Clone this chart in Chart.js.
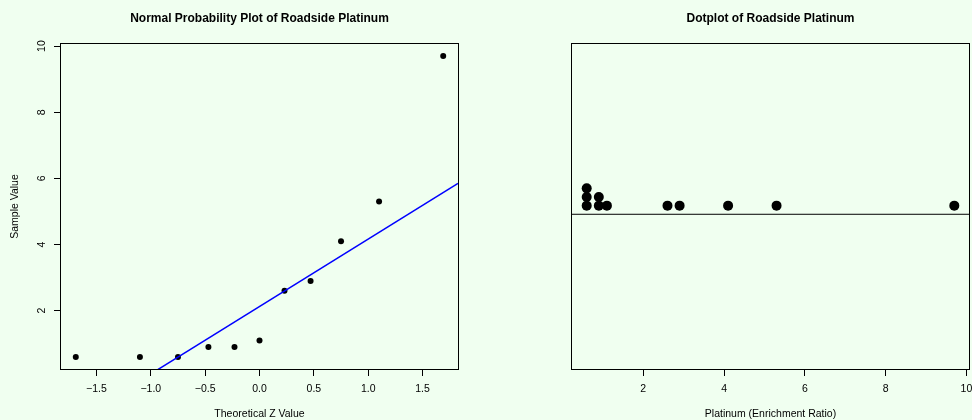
<!DOCTYPE html>
<html>
<head>
<meta charset="utf-8">
<script src="https://cdn.jsdelivr.net/npm/chart.js@4.4.1/dist/chart.umd.min.js"></script>
<style>
  html, body { margin: 0; padding: 0; background: #f0fff0; }
  #wrap { position: relative; width: 972px; height: 420px; overflow: hidden; }
  #qq { position: absolute; left: 0; top: 0; }
  #dot { position: absolute; left: 486px; top: 0; }
</style>
</head>
<body>
<div id="wrap">
  <canvas id="qq" width="486" height="420"></canvas>
  <canvas id="dot" width="500" height="420"></canvas>
</div>
<script>
// sorted roadside platinum readings (enrichment ratio)
const platinum = [0.6, 0.6, 0.6, 0.9, 0.9, 1.1, 2.6, 2.9, 4.1, 5.3, 9.7];
// theoretical z values for the 11 readings
const zScores = [-1.69, -1.10, -0.75, -0.47, -0.23, 0.0, 0.23, 0.47, 0.75, 1.10, 1.69];
// reference line (through the quartiles)
const qqIntercept = 2.125;
const qqSlope = 2.039;

const zTicks = [-1.5, -1.0, -0.5, 0.0, 0.5, 1.0, 1.5];
const sampleTicks = [2, 4, 6, 8, 10];
const platinumTicks = [2, 4, 6, 8, 10];

const zRange = [-1.826, 1.826];
const sampleRange = [0.236, 10.064];
const platinumRange = [0.236, 10.064];

Chart.defaults.font.family = '"Liberation Sans", Arial, Helvetica, sans-serif';
Chart.defaults.color = '#000';

// black frame round the plot region, like R's box()
const boxPlugin = {
  id: 'box',
  afterDatasetsDraw(chart) {
    const { ctx, chartArea: a } = chart;
    ctx.save();
    ctx.strokeStyle = '#000';
    ctx.lineWidth = 1;
    ctx.strokeRect(a.left - 0.5, a.top - 0.5, a.right - a.left + 1, a.bottom - a.top + 1);
    ctx.restore();
  }
};

const tickGrid = { drawOnChartArea: false, drawTicks: true, tickLength: 7, color: '#000' };
const axisFont = { size: 10.5 };
const titleOpts = (text) => ({
  display: true,
  text,
  fullSize: false,
  font: { size: 12, weight: 'bold' },
  padding: { top: 11.1, bottom: 18.5 },
  color: '#000'
});

// Normal probability plot
const qqPoints = platinum.map((v, i) => ({ x: zScores[i], y: v }));
const qqLine = zRange.map(z => ({ x: z, y: qqIntercept + qqSlope * z }));

new Chart(document.getElementById('qq'), {
  type: 'scatter',
  data: {
    datasets: [
      {
        data: qqLine,
        showLine: true,
        borderColor: '#0000ff',
        borderWidth: 1.5,
        pointRadius: 0,
      },
      {
        data: qqPoints,
        backgroundColor: '#000',
        pointRadius: 3,
        pointBorderWidth: 0,
      },
    ],
  },
  options: {
    responsive: false,
    animation: false,
    layout: { padding: { left: 0, right: 28, top: 0, bottom: 0 } },
    scales: {
      x: {
        type: 'linear',
        min: zRange[0],
        max: zRange[1],
        afterBuildTicks: s => { s.ticks = zTicks.map(v => ({ value: v })); },
        afterFit: s => { s.height = 51; },
        grid: tickGrid,
        border: { display: false },
        ticks: {
          padding: 7,
          font: axisFont,
          autoSkip: false,
          maxRotation: 0,
          callback: v => v.toFixed(1).replace('-', '\u2212'),
        },
        title: { display: true, text: 'Theoretical Z Value', font: axisFont, padding: { top: 0, bottom: 0 } },
      },
      y: {
        type: 'linear',
        min: sampleRange[0],
        max: sampleRange[1],
        afterBuildTicks: s => { s.ticks = sampleTicks.map(v => ({ value: v })); },
        afterFit: s => { s.width = 61; },
        grid: tickGrid,
        border: { display: false },
        ticks: {
          padding: 6.5,
          font: axisFont,
          autoSkip: false,
          minRotation: 90,
          maxRotation: 90,
          crossAlign: 'center',
        },
        title: { display: true, text: 'Sample Value', font: axisFont, padding: { top: 8.7, bottom: 0 } },
      },
    },
    plugins: {
      legend: { display: false },
      tooltip: { enabled: false },
      title: titleOpts('Normal Probability Plot of Roadside Platinum'),
    },
  },
  plugins: [boxPlugin],
});

// Dotplot: repeated readings stack upward
const seen = {};
const dotPoints = platinum.map(v => {
  seen[v] = (seen[v] || 0) + 1;
  return { x: v, y: seen[v] };
});

new Chart(document.getElementById('dot'), {
  type: 'scatter',
  data: {
    datasets: [
      {
        data: platinumRange.map(x => ({ x, y: 0 })),
        showLine: true,
        borderColor: '#000',
        borderWidth: 1,
        pointRadius: 0,
      },
      {
        data: dotPoints,
        backgroundColor: '#000',
        pointRadius: 5,
        pointBorderWidth: 0,
      },
    ],
  },
  options: {
    responsive: false,
    animation: false,
    layout: { padding: { left: 86, right: 17, top: 0, bottom: 0 } },
    scales: {
      x: {
        type: 'linear',
        min: platinumRange[0],
        max: platinumRange[1],
        afterBuildTicks: s => { s.ticks = platinumTicks.map(v => ({ value: v })); },
        afterFit: s => { s.height = 51; },
        grid: tickGrid,
        border: { display: false },
        ticks: { padding: 7, font: axisFont, autoSkip: false, maxRotation: 0 },
        title: { display: true, text: 'Platinum (Enrichment Ratio)', font: axisFont, padding: { top: 0, bottom: 0 } },
      },
      y: {
        display: false,
        min: -17.9,
        max: 19.7,
      },
    },
    plugins: {
      legend: { display: false },
      tooltip: { enabled: false },
      title: titleOpts('Dotplot of Roadside Platinum'),
    },
  },
  plugins: [boxPlugin],
});
</script>
</body>
</html>
